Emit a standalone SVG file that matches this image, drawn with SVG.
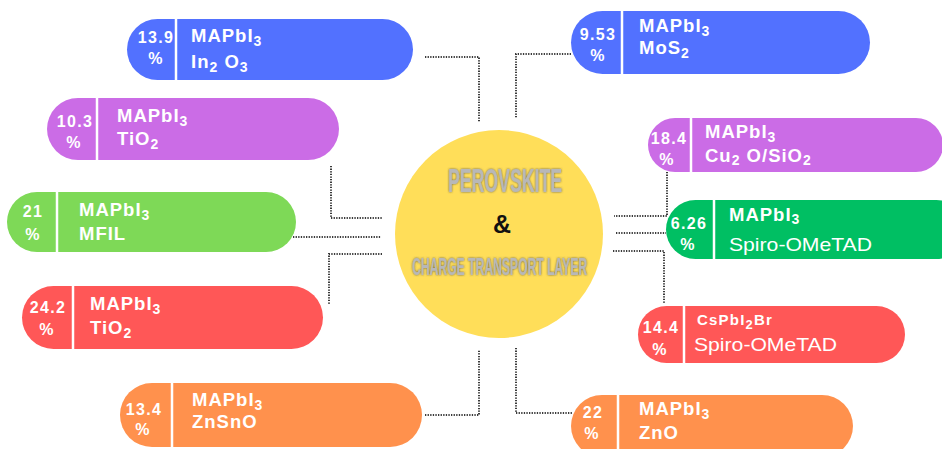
<svg xmlns="http://www.w3.org/2000/svg" width="942" height="449" viewBox="0 0 942 449">
<defs>
<style>
.pct{font-family:"Liberation Sans",Arial,sans-serif;font-weight:bold;font-size:16px;fill:#fff;letter-spacing:1.4px;text-anchor:middle}
.lbl{font-family:"Liberation Sans",Arial,sans-serif;font-weight:bold;font-size:18.5px;fill:#fff;letter-spacing:1px}
.reg{font-family:"Liberation Sans",Arial,sans-serif;font-weight:normal;font-size:18.5px;fill:#fff}
.sm{font-family:"Liberation Sans",Arial,sans-serif;font-weight:bold;font-size:15px;fill:#fff;letter-spacing:1.2px}
.sub{font-size:14px}
.div{stroke:#fff;stroke-width:2.5}
.conn{fill:none;stroke:#3a3a3a;stroke-width:2;stroke-dasharray:1.3 1.3}
.title{font-family:"Liberation Sans",Arial,sans-serif;font-weight:bold;fill:#b8b8b8;text-anchor:middle}
</style>
<filter id="glow" x="-10%" y="-40%" width="120%" height="180%">
<feGaussianBlur in="SourceAlpha" stdDeviation="1.3" result="b"/>
<feFlood flood-color="#4a4a4a" flood-opacity="0.85"/>
<feComposite in2="b" operator="in" result="s"/>
<feMerge><feMergeNode in="s"/><feMergeNode in="SourceGraphic"/></feMerge>
</filter>
</defs>
<rect width="942" height="449" fill="#fff"/>

<g id="connectors">
<path class="conn" d="M425,57 H479 V122"/>
<path class="conn" d="M571,54 H516 V118"/>
<path class="conn" d="M331,166 V218 H383"/>
<path class="conn" d="M293,237 H381"/>
<path class="conn" d="M382,254 H329 V305"/>
<path class="conn" d="M667,172 V216 H614"/>
<path class="conn" d="M616,233 H666"/>
<path class="conn" d="M613,251 H664 V303"/>
<path class="conn" d="M425,415 H479 V350"/>
<path class="conn" d="M516,348 V413 H572"/>
</g>

<g id="center">
<circle cx="499" cy="234" r="104" fill="#FFDE59"/>
<text class="title" x="505" y="192" font-size="33" textLength="114" lengthAdjust="spacingAndGlyphs" filter="url(#glow)">PEROVSKITE</text>
<text x="502" y="233" font-family="Liberation Sans,Arial,sans-serif" font-weight="bold" font-size="25" text-anchor="middle" fill="#111">&amp;</text>
<text class="title" x="499.5" y="275" font-size="23.5" textLength="175" lengthAdjust="spacingAndGlyphs" filter="url(#glow)">CHARGE TRANSPORT LAYER</text>
</g>

<g id="n1">
<rect x="127" y="19" width="286" height="61" rx="30.5" fill="#5271FF"/>
<line class="div" x1="176" y1="19" x2="176" y2="80"/>
<text class="pct" x="156" y="43">13.9</text>
<text class="pct" x="156" y="64">%</text>
<text class="lbl" x="191" y="42">MAPbI<tspan class="sub" dy="4">3</tspan></text>
<text class="lbl" x="191" y="68">In<tspan class="sub" dy="4">2</tspan><tspan dy="-4"> O</tspan><tspan class="sub" dy="4">3</tspan></text>
</g>

<g id="n2">
<rect x="47" y="98" width="292" height="62" rx="31" fill="#CB6CE6"/>
<line class="div" x1="97" y1="98" x2="97" y2="160"/>
<text class="pct" x="75" y="127">10.3</text>
<text class="pct" x="74" y="148">%</text>
<text class="lbl" x="117" y="122">MAPbI<tspan class="sub" dy="4">3</tspan></text>
<text class="lbl" x="117" y="145">TiO<tspan class="sub" dy="4">2</tspan></text>
</g>

<g id="n3">
<rect x="7" y="192" width="289" height="60" rx="30" fill="#7ED957"/>
<line class="div" x1="57" y1="192" x2="57" y2="252"/>
<text class="pct" x="33" y="217">21</text>
<text class="pct" x="33" y="240">%</text>
<text class="lbl" x="79" y="216">MAPbI<tspan class="sub" dy="4">3</tspan></text>
<text class="lbl" x="79" y="240">MFIL</text>
</g>

<g id="n4">
<rect x="22" y="286" width="301" height="63" rx="31.5" fill="#FF5757"/>
<line class="div" x1="73" y1="286" x2="73" y2="349"/>
<text class="pct" x="48" y="313">24.2</text>
<text class="pct" x="47" y="335">%</text>
<text class="lbl" x="90" y="310">MAPbI<tspan class="sub" dy="4">3</tspan></text>
<text class="lbl" x="90" y="334">TiO<tspan class="sub" dy="4">2</tspan></text>
</g>

<g id="n5">
<rect x="120" y="383" width="302" height="64" rx="32" fill="#FF914D"/>
<line class="div" x1="172" y1="383" x2="172" y2="447"/>
<text class="pct" x="144" y="415">13.4</text>
<text class="pct" x="143" y="435">%</text>
<text class="lbl" x="192" y="406">MAPbI<tspan class="sub" dy="4">3</tspan></text>
<text class="lbl" x="192" y="428">ZnSnO</text>
</g>

<g id="n6">
<rect x="571" y="11" width="299" height="63" rx="31.5" fill="#5271FF"/>
<line class="div" x1="622" y1="11" x2="622" y2="74"/>
<text class="pct" x="598" y="40">9.53</text>
<text class="pct" x="598" y="61">%</text>
<text class="lbl" x="639" y="32">MAPbI<tspan class="sub" dy="4">3</tspan></text>
<text class="lbl" x="639" y="54">MoS<tspan class="sub" dy="4">2</tspan></text>
</g>

<g id="n7">
<rect x="648" y="118" width="295" height="54" rx="27" fill="#CB6CE6"/>
<line class="div" x1="691" y1="118" x2="691" y2="172"/>
<text class="pct" x="669" y="144">18.4</text>
<text class="pct" x="667" y="165">%</text>
<text class="lbl" x="705" y="138">MAPbI<tspan class="sub" dy="4">3</tspan></text>
<text class="lbl" x="705" y="162">Cu<tspan class="sub" dy="3">2</tspan><tspan dy="-3"> O/SiO</tspan><tspan class="sub" dy="3">2</tspan></text>
</g>

<g id="n8">
<rect x="666" y="200" width="300" height="59" rx="29.5" fill="#00BF63"/>
<line class="div" x1="714" y1="200" x2="714" y2="259"/>
<text class="pct" x="689" y="229">6.26</text>
<text class="pct" x="688" y="250">%</text>
<text class="lbl" x="729" y="221">MAPbI<tspan class="sub" dy="3">3</tspan></text>
<text class="reg" x="729" y="251" textLength="143" lengthAdjust="spacingAndGlyphs">Spiro-OMeTAD</text>
</g>

<g id="n9">
<rect x="638" y="306" width="267" height="57" rx="28.5" fill="#FF5757"/>
<line class="div" x1="684" y1="306" x2="684" y2="363"/>
<text class="pct" x="661" y="333">14.4</text>
<text class="pct" x="660" y="355">%</text>
<text class="sm" x="697" y="325">CsPbI<tspan font-size="13" dy="4">2</tspan><tspan dy="-4">Br</tspan></text>
<text class="reg" x="694" y="351" textLength="143" lengthAdjust="spacingAndGlyphs">Spiro-OMeTAD</text>
</g>

<g id="n10">
<rect x="571" y="395" width="282" height="62" rx="31" fill="#FF914D"/>
<line class="div" x1="618" y1="395" x2="618" y2="457"/>
<text class="pct" x="593" y="418">22</text>
<text class="pct" x="592" y="439">%</text>
<text class="lbl" x="639" y="415">MAPbI<tspan class="sub" dy="4">3</tspan></text>
<text class="lbl" x="639" y="439">ZnO</text>
</g>
</svg>
